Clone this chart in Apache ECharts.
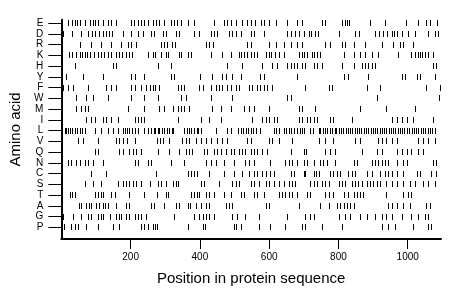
<!DOCTYPE html>
<html><head><meta charset="utf-8">
<script src="https://cdn.jsdelivr.net/npm/echarts@6/dist/echarts.min.js"></script>
<style>html,body{margin:0;padding:0;background:#fff}#c{width:460px;height:299px}</style>
</head><body><div id="c"></div>
<script>
const categories = ['E','D','R','K','H','Y','F','W','M','I','L','V','Q','N','C','S','T','A','G','P'];
const xTicks = [200, 400, 600, 800, 1000];

const E = [21,31,40,47,54,69,83,93,100,107,122,136,145,158,203,212,222,232,240,251,265,275,282,299,318,328,334,347,366,385,442,471,481,490,505,524,538,548,560,577,586,601,620,653,682,696,754,763,811,819,826,833,893,936,996,1031,1055,1065,1086];
const D = [3,6,31,59,78,91,100,110,122,131,139,148,179,203,222,237,260,268,294,304,332,342,385,399,433,442,450,485,495,505,519,548,557,586,653,663,677,687,701,716,722,735,741,802,850,860,907,918,929,941,955,963,971,984,1003,1022,1060,1079,1089];
const R = [54,88,117,145,174,193,203,217,289,299,306,320,329,418,428,438,538,548,600,622,644,663,682,696,763,778,811,821,845,878,926,960,979,988,1017];
const K = [23,31,43,55,62,69,76,83,95,107,117,126,136,145,158,167,177,187,196,206,251,265,273,289,303,310,342,348,368,375,433,466,490,514,521,529,538,548,557,565,591,600,607,617,629,644,687,696,701,711,725,732,739,747,816,845,864,878,897,917,974,1012,1022,1031,1038,1044,1050,1060,1075];
const H = [40,151,160,280,318,481,524,581,610,624,653,663,672,682,696,706,730,739,754,811,845,869,878,888,897,907,1075,1084];
const Y = [16,64,122,203,213,241,318,327,402,437,466,476,495,519,576,586,682,816,830,888,984,993,1027,1036,1079];
const F = [2,7,21,35,78,131,145,160,203,213,232,246,256,265,272,284,337,347,356,399,409,433,447,457,466,479,490,505,514,543,552,567,576,586,596,610,706,773,782,883,921,1055,1094];
const W = [45,74,93,136,203,241,280,347,361,433,495,653,663,912,1092];
const M = [45,59,69,78,193,241,284,297,323,337,347,356,371,437,461,490,529,543,557,600,687,696,734,864,939,1022];
const I = [74,88,98,122,131,145,165,213,222,232,241,337,404,428,461,552,581,591,600,615,624,687,696,711,720,730,739,778,787,840,955,969,984,998,1017,1075];
const L = [11,16,21,27,33,40,46,54,61,69,98,117,136,150,165,179,184,191,198,204,213,222,241,251,260,268,272,280,284,291,299,306,311,320,325,356,364,371,377,385,392,397,406,447,481,490,511,519,525,534,540,548,555,562,576,615,622,630,643,651,659,664,674,682,689,696,703,720,728,744,749,757,764,768,778,784,791,795,803,810,814,822,829,836,840,849,855,862,866,875,881,886,894,901,907,912,920,927,933,938,946,953,960,965,973,980,986,991,1000,1006,1013,1019,1024,1032,1039,1046,1050,1059,1065,1072,1080];
const V = [50,64,107,160,169,179,191,213,279,287,294,313,351,361,370,390,404,418,433,452,466,481,538,548,600,610,629,667,744,763,787,849,864,917,926,940,955,969,1031,1046,1060,1079];
const Q = [98,107,169,179,198,208,217,232,280,313,342,361,370,380,414,423,442,452,461,476,490,500,514,524,533,548,557,567,581,596,663,701,709,763,778,792,869,912,926,969,984,998,1012,1031,1046];
const N = [21,30,45,54,69,78,93,122,213,222,251,260,318,356,418,433,447,471,500,533,543,557,605,648,658,667,682,701,711,730,749,758,768,792,845,854,897,907,917,926,936,945,969,988,998,1075,1084];
const C = [88,131,275,366,375,385,394,428,471,500,524,543,557,567,581,591,605,615,663,672,701,706,730,737,744,778,787,797,806,830,840,849,883,897,921,936,945,955,969,988,1027,1036,1070,1084];
const S = [1,3,69,93,117,165,179,189,198,208,217,232,256,280,289,303,323,332,337,404,414,457,495,505,514,548,557,572,591,600,615,629,644,658,667,677,720,730,739,754,763,773,802,811,821,840,849,859,869,883,893,902,912,921,940,955,969,988,1008,1022,1046,1060,1079];
const T = [26,32,40,98,107,115,122,145,155,198,241,279,303,310,375,385,392,399,418,428,442,471,490,519,529,557,567,586,629,639,648,658,667,682,711,720,763,773,787,816,830,845,854,864,873,940,988,1003,1012];
const A = [52,59,74,80,88,102,109,122,128,136,160,189,198,260,270,299,332,342,366,373,390,404,418,428,476,485,495,591,600,687,749,773,797,806,816,826,835,845,945,955,969,988,1008,1055,1065];
const G = [7,35,59,78,86,107,115,122,141,160,167,174,189,196,213,222,232,246,327,385,399,409,418,428,442,495,509,533,572,653,706,720,730,802,821,835,864,883,907,926,940,955,984,1012,1031,1051,1060];
const P = [9,30,40,50,74,107,150,169,232,241,251,265,272,279,366,409,415,500,507,519,572,605,648,696,706,754,811,926,945,964,1017,1060,1070];

const rows = [E,D,R,K,H,Y,F,W,M,I,L,V,Q,N,C,S,T,A,G,P];
const n = categories.length;
const points = [];
rows.forEach((arr, i) => arr.forEach(p => points.push([p, n - 1 - i])));
const yVals = categories.map((c, i) => n - 1 - i);

const chart = echarts.init(document.getElementById('c'), null, {renderer: 'canvas'});
const fontFam = 'Liberation Sans, Arial, sans-serif';
chart.setOption({
  animation: false,
  backgroundColor: '#fff',
  grid: {left: 59, right: 19, top: 19.8, bottom: 60, containLabel: false},
  xAxis: {
    type: 'value', min: 0, max: 1096,
    name: 'Position in protein sequence', nameLocation: 'middle', nameGap: 32,
    nameTextStyle: {fontFamily: fontFam, fontSize: 15, color: '#000'},
    axisLine: {show: true, onZero: false, lineStyle: {color: '#000', width: 2}},
    axisTick: {show: true, customValues: xTicks, length: 10, lineStyle: {color: '#000', width: 1}},
    axisLabel: {customValues: xTicks, fontFamily: fontFam, fontSize: 10, color: '#000', margin: 13,
      formatter: v => String(v)},
    splitLine: {show: false}
  },
  yAxis: {
    type: 'value', min: -1.07, max: 19.3,
    name: 'Amino acid', nameLocation: 'middle', nameGap: 32, nameRotate: 90,
    nameTextStyle: {fontFamily: fontFam, fontSize: 15, color: '#000'},
    axisLine: {show: true, onZero: false, lineStyle: {color: '#000', width: 2}},
    axisTick: {show: true, customValues: yVals, length: 13, lineStyle: {color: '#000', width: 1}},
    axisLabel: {customValues: yVals, fontFamily: fontFam, fontSize: 10, color: '#000', margin: 18,
      showMinLabel: true, showMaxLabel: true, hideOverlap: false,
      formatter: v => categories[n - 1 - Math.round(v)] || ''},
    splitLine: {show: false}
  },
  series: [{
    type: 'custom',
    data: points,
    renderItem: (params, api) => {
      const pt = api.coord([api.value(0), api.value(1)]);
      return {type: 'rect', shape: {x: Math.floor(pt[0]), y: Math.round(pt[1]) - 3, width: 1, height: 6},
        style: {fill: '#000'}};
    }
  }]
});
</script></body></html>
